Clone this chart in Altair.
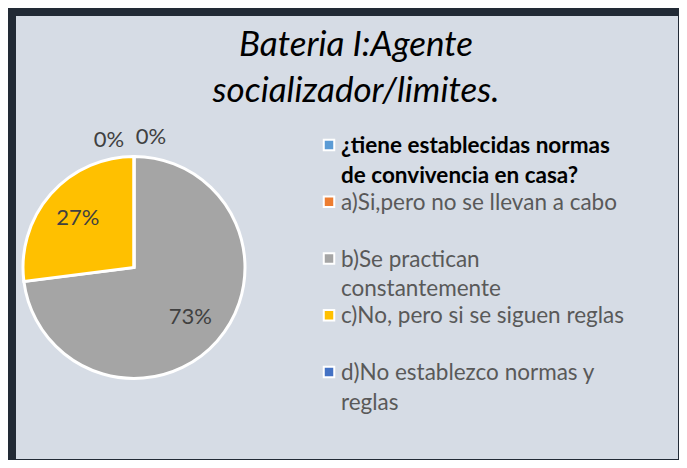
import math
import altair as alt
import pandas as pd

# ---- data ----
categories = [
    "¿tiene establecidas normas de convivencia en casa?",
    "a)Si,pero no se llevan a cabo",
    "b)Se practican constantemente",
    "c)No, pero si se siguen reglas",
    "d)No establezco normas y reglas",
]
legend_labels = [
    "¿tiene establecidas normas\nde convivencia en casa?",
    "a)Si,pero no se llevan a cabo",
    "b)Se practican\nconstantemente",
    "c)No, pero si se siguen reglas",
    "d)No establezco normas y\nreglas",
]
values = [0, 0, 73, 27, 0]
colors = ["#5B9BD5", "#ED7D31", "#A5A5A5", "#FFC000", "#4472C4"]
title_lines = ["Bateria I:Agente", "socializador/limites."]

FONT = "Lato"
CX, CY, R = 118, 251.5, 111

df = pd.DataFrame({
    "idx": list(range(len(categories))),
    "category": categories,
    "legend": legend_labels,
    "value": values,
})

theta_scale = alt.Scale(domain=[0, 100], range=[0, 2 * math.pi])
color_scale = alt.Scale(domain=categories, range=colors)
legend_y = alt.Y("idx:Q", scale=alt.Scale(domain=[0, 4], range=[129, 356]), axis=None)

base = alt.Chart(df).transform_window(
    cum="sum(value)", sort=[alt.SortField("idx")], frame=[None, 0]
).transform_calculate(
    start="datum.cum - datum.value",
    mid="datum.cum - datum.value / 2",
    pct="datum.value / 100",
)

arcs = base.mark_arc(radius=R, stroke="white", strokeWidth=3).encode(
    theta=alt.Theta("start:Q", scale=theta_scale),
    theta2="cum:Q",
    color=alt.Color("category:N", scale=color_scale, legend=None),
    x=alt.value(CX),
    y=alt.value(CY),
)

lbl_kw = dict(font=FONT, fontSize=22, color="#404040")
inner = base.transform_filter("datum.value > 0").mark_text(radius=75, **lbl_kw).encode(
    theta=alt.Theta("mid:Q", scale=theta_scale),
    text=alt.Text("pct:Q", format=".0%"),
    x=alt.value(CX), y=alt.value(CY),
)
zero_a = base.transform_filter("datum.idx == 1").mark_text(radius=131, dx=17, **lbl_kw).encode(
    theta=alt.Theta("mid:Q", scale=theta_scale),
    text=alt.Text("pct:Q", format=".0%"),
    x=alt.value(CX), y=alt.value(CY),
)
zero_d = base.transform_filter("datum.idx == 4").mark_text(radius=131, dx=-25, dy=3, **lbl_kw).encode(
    theta=alt.Theta("mid:Q", scale=theta_scale),
    text=alt.Text("pct:Q", format=".0%"),
    x=alt.value(CX), y=alt.value(CY),
)

markers = base.mark_square(size=110, stroke="white", strokeWidth=2, opacity=1).encode(
    x=alt.value(313),
    y=legend_y,
    color=alt.Color("category:N", scale=color_scale, legend=None),
)

leg_kw = dict(font=FONT, fontSize=22.5, align="left", baseline="alphabetic",
              lineBreak="\n", lineHeight=29.5, dy=8)
leg_head = base.transform_filter("datum.idx == 0").mark_text(
    fontWeight="bold", color="#000000", **leg_kw
).encode(x=alt.value(325), y=legend_y, text="legend:N")
leg_items = base.transform_filter("datum.idx > 0").mark_text(
    color="#595959", **leg_kw
).encode(x=alt.value(325), y=legend_y, text="legend:N")

title = alt.Chart(pd.DataFrame({"t": [0]})).mark_text(
    font=FONT, fontSize=35, fontStyle="italic", color="#000000",
    align="center", baseline="alphabetic", lineHeight=45.5,
).encode(x=alt.value(340), y=alt.value(40), text=alt.value(title_lines))

chart = alt.layer(arcs, inner, zero_a, zero_d, markers, leg_head, leg_items, title).properties(
    width=662,
    height=443,
    autosize=alt.AutoSizeParams(type="none"),
    padding={"left": 8, "top": 8, "right": 1, "bottom": 1},
    background="#222a35",
).configure_view(fill="#d6dce5", strokeWidth=0)

chart.save("out.html", embed_options={"renderer": "svg", "actions": False})
